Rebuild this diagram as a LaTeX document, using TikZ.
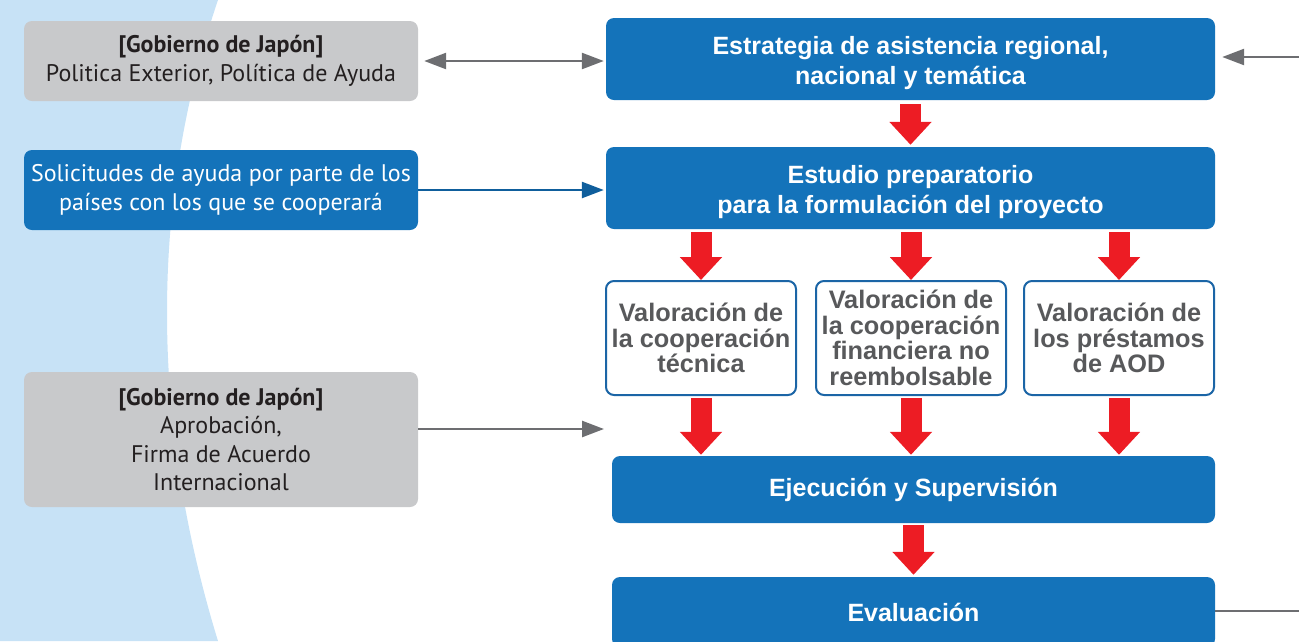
\documentclass[tikz,border=0pt]{standalone}
\usepackage{fontspec}
\setmainfont{Liberation Sans}
\newfontfamily\myr{PT Sans}
\usetikzlibrary{arrows.meta}
\definecolor{bgblue}{HTML}{C7E2F6}
\definecolor{boxblue}{HTML}{1473BA}
\definecolor{boxgray}{HTML}{C8C9CB}
\definecolor{txtgray}{HTML}{58595B}
\definecolor{txtblack}{HTML}{231F20}
\definecolor{arrgray}{HTML}{6D6E71}
\definecolor{arrblue}{HTML}{0F5E9C}
\definecolor{fatred}{HTML}{ED1C24}
\definecolor{brdblue}{HTML}{1B65A6}
\newcommand{\topstrut}{\rule{0pt}{27pt}}
\begin{document}
\begin{tikzpicture}[x=1pt,y=-1pt,
 leftbox/.style={rounded corners=8pt, minimum width=394pt, align=center, inner sep=0pt, font=\myr\fontsize{24}{28.5}\selectfont},
 graybox/.style={leftbox, fill=boxgray, text=txtblack},
 lbluebox/.style={leftbox, fill=boxblue, text=white},
 mainbox/.style={rounded corners=8pt, fill=boxblue, text=white, align=center, inner sep=0pt, font=\bfseries\fontsize{25}{30}\selectfont},
 valbox/.style={rounded corners=8pt, draw=brdblue, line width=2pt, fill=white, text=txtgray, minimum width=190pt, minimum height=114pt, align=center, inner sep=0pt, font=\bfseries\fontsize{25.3}{25.5}\selectfont},
 fatarrow/.style={draw=fatred, line width=21pt, -{Triangle[width=41pt,length=23pt]}},
 thinarrow/.style={draw=arrgray, line width=2.5pt, -{Triangle[width=16pt,length=22pt]}},
]
\useasboundingbox (0,0) rectangle (1299,641);
\clip (0,0) rectangle (1299,641);
\fill[bgblue] (0,0) -- (218,0) .. controls (150,200) and (150,420) .. (218,641) -- (0,641) -- cycle;

\node[graybox, minimum height=80pt] (g1) at (221,61) {\textbf{[Gobierno de Japón]}\\Politica Exterior, Política de Ayuda};
\node[lbluebox, minimum height=80pt] (s1) at (221,190) {Solicitudes de ayuda por parte de los\\países con los que se cooperará};
\node[graybox, minimum height=135pt] (g2) at (221,439.5) {\textbf{[Gobierno de Japón]}\\Aprobación,\\Firma de Acuerdo\\Internacional};

\node[mainbox, minimum width=609pt, minimum height=82pt] (b1) at (910.5,59) {\topstrut Estrategia de asistencia regional,\\nacional y temática};
\node[mainbox, minimum width=609pt, minimum height=82pt] (b2) at (910.5,188) {\topstrut Estudio preparatorio\\para la formulación del proyecto};
\node[valbox] (v1) at (701,338) {Valoración de\\la cooperación\\técnica};
\node[valbox] (v2) at (911,338) {Valoración de\\la cooperación\\financiera no\\reembolsable};
\node[valbox] (v3) at (1119,338) {Valoración de\\los préstamos\\de AOD};
\node[mainbox, minimum width=603pt, minimum height=67pt] (e) at (913.5,489.5) {Ejecución y Supervisión};
\node[mainbox, minimum width=603pt, minimum height=70pt] (ev) at (913.5,612) {Evaluación};

% fat red arrows
\draw[fatarrow, shorten <=4pt, shorten >=2pt] (b1.south) -- (b2.north);
\foreach \v in {v1,v2,v3}{
  \draw[fatarrow, shorten <=3pt] (b2.south -| \v.north) -- (\v.north);
  \draw[fatarrow, shorten <=2pt, shorten >=1pt] (\v.south) -- (\v.south |- e.north);
}
\draw[fatarrow, shorten <=2pt, shorten >=2pt] (e.south) -- (ev.north);

% thin connectors
\draw[thinarrow, {Triangle[width=16pt,length=22pt]}-{Triangle[width=16pt,length=22pt]}, shorten <=6pt, shorten >=2pt] (g1.east) -- (g1.east -| b1.west);
\draw[thinarrow, draw=arrblue, shorten >=2pt] (s1.east) -- (s1.east -| b2.west);
\coordinate (g2t) at (604,429);
\draw[thinarrow] (g2.east |- g2t) -- (g2t);
\coordinate (rin) at (1305,57);
\draw[thinarrow, shorten >=7pt] (rin) -- (rin -| b1.east);
\coordinate (rout) at (1305,611);
\draw[arrgray, line width=2.5pt] (ev.east |- rout) -- (rout);
\end{tikzpicture}
\end{document}
